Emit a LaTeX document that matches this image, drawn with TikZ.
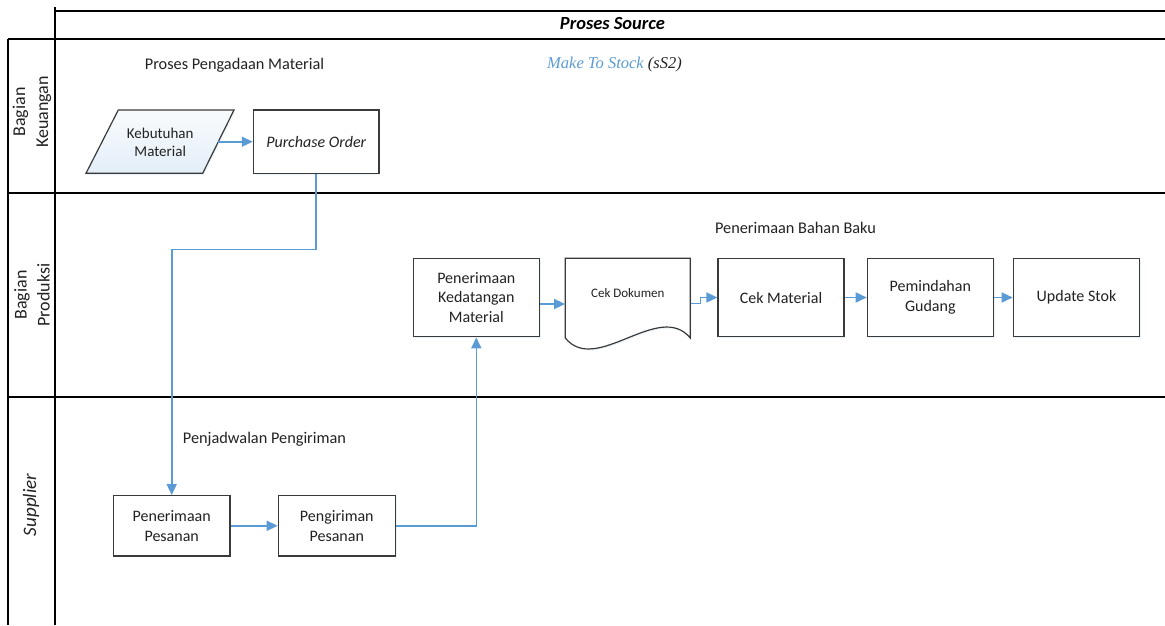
\documentclass[tikz,border=0pt]{standalone}
\usepackage{fontspec}
\setmainfont{Carlito}
\newfontfamily\timesf{Liberation Serif}
\usetikzlibrary{arrows.meta,calc,shadows}
\definecolor{flow}{HTML}{5B9BD5}
\definecolor{boxline}{HTML}{3A3A3A}
\definecolor{txt}{HTML}{222222}
\begin{document}
\begin{tikzpicture}[x=1pt,y=-1pt,
  lane/.style={line width=1.5pt, black},
  boxshadow/.style={drop shadow={shadow xshift=1.2pt, shadow yshift=-1.5pt, fill=flow!30, opacity=0.4}},
  box/.style={draw=boxline, line width=1.2pt, fill=white, align=center, inner sep=0pt, text=txt,
    font=\fontsize{16}{19.5}\selectfont, boxshadow},
  flowline/.style={draw=flow, line width=1.6pt, -{Triangle[length=11pt,width=10pt]}},
  lbl/.style={font=\fontsize{16.3}{19.5}\selectfont, inner sep=0pt, text=txt},
  lanelbl/.style={rotate=90, align=center, font=\fontsize{18}{23}\selectfont, inner sep=0pt, text=txt}]

\useasboundingbox (0,0) rectangle (1165,625);

% swimlane frame
\draw[lane] (55,7) -- (55,625);
\draw[lane] (55,11) -- (1165,11);
\draw[lane] (8,39) -- (1165,39);
\draw[lane] (8,39) -- (8,625);
\draw[lane] (8,193) -- (1165,193);
\draw[lane] (8,397) -- (1165,397);

\node[inner sep=0pt, font=\fontsize{18.5}{22}\selectfont\bfseries\itshape] (title) at (612.5,24) {Proses Source};

\node[lanelbl] (l1) at (32,112) {Bagian\\Keuangan};
\node[lanelbl] (l2) at (32,295) {Bagian\\Produksi};
\node[lanelbl, font=\fontsize{19}{23}\selectfont\itshape] (l3) at (31,505) {Supplier};

% labels
\node[lbl] (t1) at (234.5,65) {Proses Pengadaan Material};
\node[inner sep=0pt, font=\fontsize{16.5}{20}\timesf\itshape\selectfont] (t2) at (614.5,65) {\textcolor{flow}{Make To Stock} \textcolor{txt}{(sS2)}};
\node[lbl] (t3) at (795.5,228) {Penerimaan Bahan Baku};
\node[lbl] (t4) at (264.5,439.5) {Penjadwalan Pengiriman};

% parallelogram
\shade[top color=flow!4, bottom color=flow!17, drop shadow={shadow xshift=1.2pt, shadow yshift=-1.5pt, fill=flow!30, opacity=0.4}] (118.3,110) -- (234,110) -- (202.7,173.3) -- (86,173.3) -- cycle;
\draw[boxline, line width=1.2pt, line join=miter] (118.3,110) -- (234,110) -- (202.7,173.3) -- (86,173.3) -- cycle;
\node[inner sep=0pt, align=center, text=txt, font=\fontsize{15}{18}\selectfont] (keb) at (160.2,142) {Kebutuhan\\Material};
\coordinate (kebR) at (218.3,141.7);

\node[box, minimum width=125.7pt, minimum height=63.3pt, font=\fontsize{16}{19.5}\selectfont\itshape] (po) at (316.2,141.7) {Purchase Order};

\node[box, minimum width=126pt, minimum height=78.5pt] (ked) at (476.3,297.5) {Penerimaan\\Kedatangan\\Material};

% document shape
\node[minimum width=125pt, minimum height=78.5pt, inner sep=0pt] (cekdok) at (627.8,297.5) {};
\fill[white, drop shadow={shadow xshift=1.2pt, shadow yshift=-1.5pt, fill=flow!30, opacity=0.4}] (565.3,258.3) -- (690.3,258.3) -- (690.3,338) .. controls (659,300) and (596,376) .. (565.3,338) -- cycle;
\draw[boxline, line width=1.2pt] (565.3,258.3) -- (690.3,258.3) -- (690.3,338) .. controls (659,300) and (596,376) .. (565.3,338) -- cycle;
\node[inner sep=0pt, text=txt, font=\fontsize{13}{15}\selectfont] (cekdoktxt) at (627.8,293) {Cek Dokumen};

\node[box, minimum width=126pt, minimum height=78.5pt] (cekmat) at (781,297.5) {Cek Material};
\node[box, minimum width=126pt, minimum height=78.5pt] (pindah) at (930.3,297.5) {Pemindahan\\Gudang};
\node[box, minimum width=126.4pt, minimum height=78.5pt] (upd) at (1076.5,297.5) {Update Stok};

\node[box, minimum width=116.7pt, minimum height=60.3pt] (pp1) at (171.7,525.8) {Penerimaan\\Pesanan};
\node[box, minimum width=117pt, minimum height=60.3pt] (pk) at (336.8,525.8) {Pengiriman\\Pesanan};

% connectors
\coordinate (turn) at (171.7,249.3);
\draw[flowline] (kebR) -- (po.west);
\draw[flowline] (po.south) -- (po.south |- turn) -- (turn) -- (pp1.north);
\draw[flowline] (pp1.east) -- (pk.west);
\draw[flowline] (pk.east) -| (ked.south);
\draw[flowline] ([yshift=-6.5pt]ked.east) -- ([yshift=-6.5pt]cekdok.west);
\draw[flowline] ([yshift=-6pt]cekdok.east) -- ++(10,0) |- (cekmat.west);
\draw[flowline] (cekmat.east) -- (pindah.west);
\draw[flowline] (pindah.east) -- (upd.west);
\end{tikzpicture}
\end{document}
